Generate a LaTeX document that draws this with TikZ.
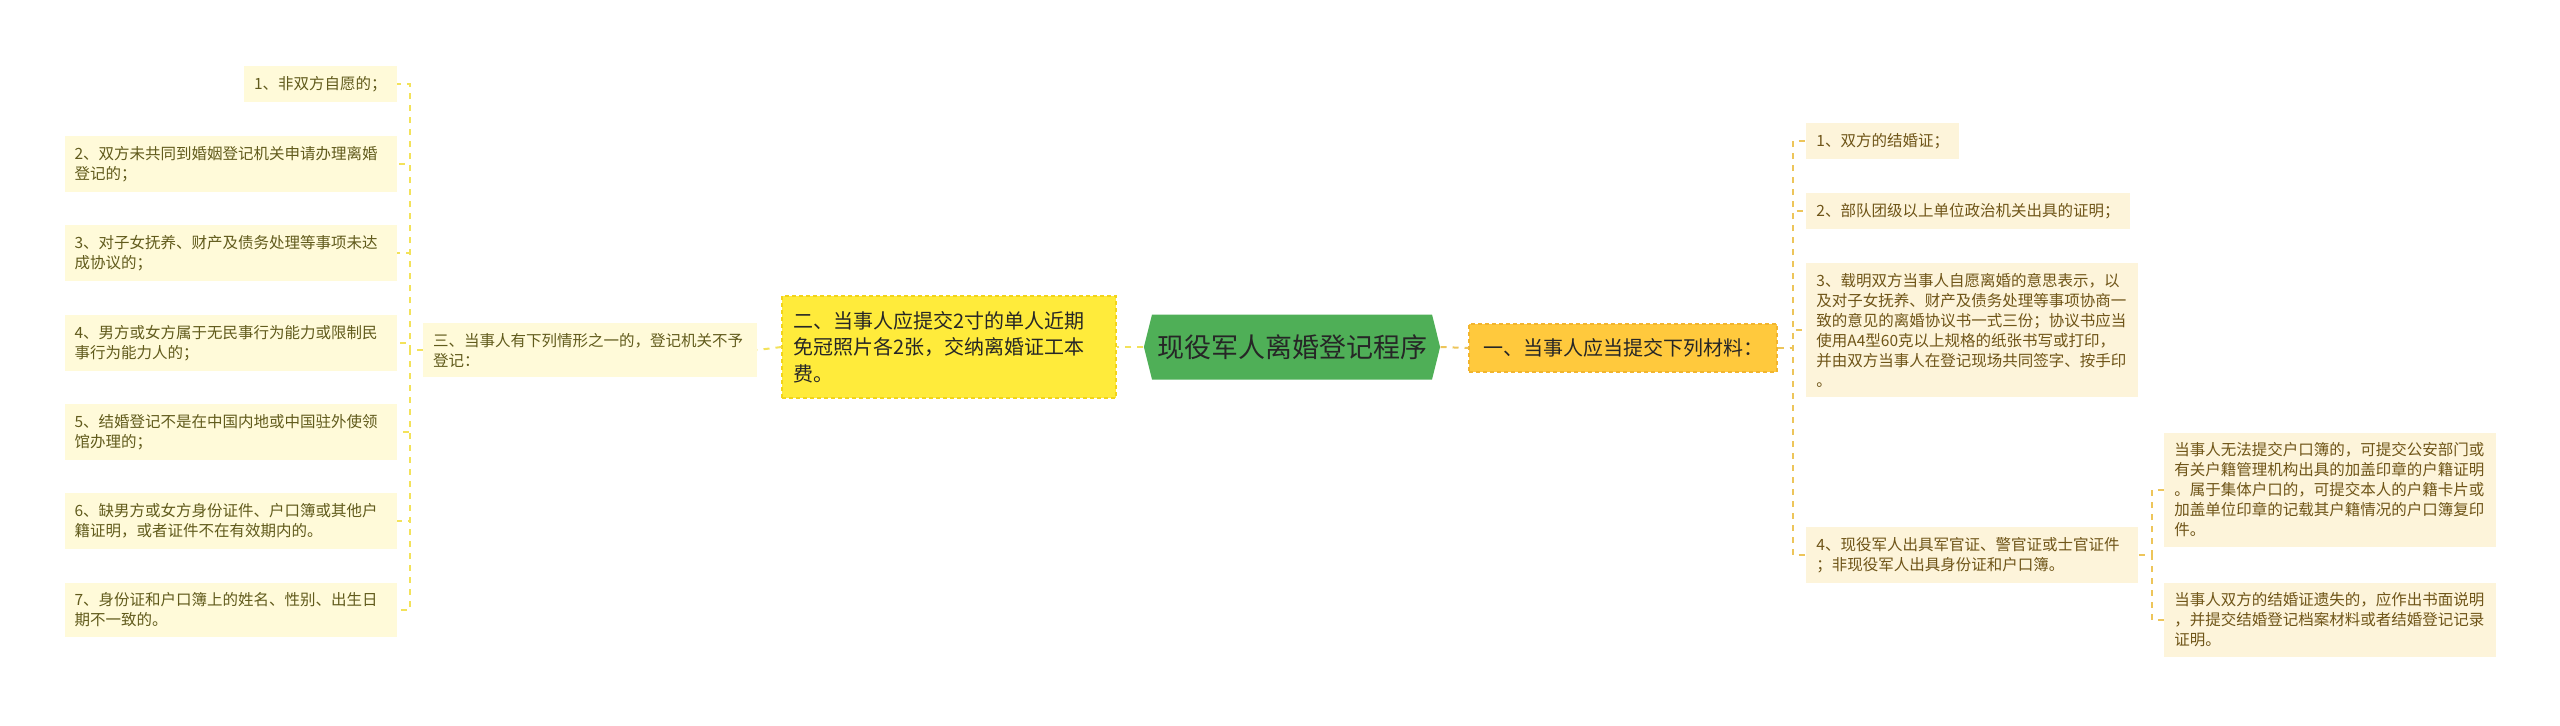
\documentclass[tikz,border=0pt]{standalone}
\usepackage{fontspec}
\setmainfont{Noto Sans CJK SC}
\usepackage{xcolor}
\usetikzlibrary{shapes.symbols}
\definecolor{hubgreen}{HTML}{4FAF57}
\definecolor{hubtext}{HTML}{262626}
\definecolor{twofill}{HTML}{FFEB3B}
\definecolor{twoline}{HTML}{F2D41A}
\definecolor{onefill}{HTML}{FFC93D}
\definecolor{oneline}{HTML}{F2B52E}
\definecolor{leafL}{HTML}{FFFAD9}
\definecolor{leafR}{HTML}{FDF4DA}
\definecolor{txtL}{HTML}{615B1C}
\definecolor{txtR}{HTML}{6F5518}
\definecolor{linkL}{HTML}{F3E25A}
\definecolor{linkR}{HTML}{EDC55A}
\tikzset{
  hub/.style={shape=signal,signal to=east and west,signal pointer angle=152,fill=hubgreen,text=hubtext,
    inner xsep=2.5pt,minimum height=32.5pt,font=\fontsize{13.5pt}{16pt}\selectfont},
  topictwo/.style={fill=twofill,draw=twoline,line width=0.6pt,dash pattern=on 2pt off 1.5pt,text=hubtext,
    align=left,text width=156pt,inner xsep=5.5pt,inner ysep=3pt,minimum height=51pt,font=\fontsize{10pt}{13.3pt}\selectfont},
  topicone/.style={fill=onefill,draw=oneline,line width=0.6pt,dash pattern=on 2pt off 1.5pt,text=hubtext,
    inner xsep=7pt,inner ysep=3pt,minimum height=24pt,font=\fontsize{10pt}{12pt}\selectfont},
  subl/.style={fill=leafL,text=txtL,align=left,text width=157pt,inner xsep=5pt,inner ysep=5.1pt,
    font=\fontsize{7.75pt}{10pt}\selectfont},
  leafl/.style={fill=leafL,text=txtL,align=left,anchor=east,inner xsep=5pt,inner ysep=5.1pt,
    font=\fontsize{7.75pt}{10pt}\selectfont},
  leafr/.style={fill=leafR,text=txtR,align=left,anchor=west,inner xsep=5pt,inner ysep=5.1pt,
    font=\fontsize{7.75pt}{10pt}\selectfont},
  wrapbox/.style={text width=156pt},
  linkl/.style={draw=linkL,line width=1pt,dash pattern=on 3pt off 3pt},
  linkr/.style={draw=linkR,line width=1pt,dash pattern=on 3pt off 3pt},
}

\begin{document}
\begin{tikzpicture}[x=0.5pt,y=-0.5pt]
  \useasboundingbox (0,0) rectangle (2560,725);
  % centre and main branches
  \node[hub] (root) at (1292,347) {现役军人离婚登记程序};
  \node[topictwo] (two) at (949,347) {二、当事人应提交2寸的单人近期\\免冠照片各2张，交纳离婚证工本\\费。};
  \node[subl] (three) at (590,350) {三、当事人有下列情形之一的，登记机关不予\\登记：};
  \node[topicone] (one) at (1623,348) {一、当事人应当提交下列材料：};
  % left leaves
  \node[leafl] (l1) at (397,84) {1、非双方自愿的；};
  \node[leafl,wrapbox] (l2) at (397,164) {2、双方未共同到婚姻登记机关申请办理离婚\\登记的；};
  \node[leafl,wrapbox] (l3) at (397,253) {3、对子女抚养、财产及债务处理等事项未达\\成协议的；};
  \node[leafl,wrapbox] (l4) at (397,343) {4、男方或女方属于无民事行为能力或限制民\\事行为能力人的；};
  \node[leafl,wrapbox] (l5) at (397,432) {5、结婚登记不是在中国内地或中国驻外使领\\馆办理的；};
  \node[leafl,wrapbox] (l6) at (397,521) {6、缺男方或女方身份证件、户口簿或其他户\\籍证明，或者证件不在有效期内的。};
  \node[leafl,wrapbox] (l7) at (397,610) {7、身份证和户口簿上的姓名、性别、出生日\\期不一致的。};
  % right leaves
  \node[leafr] (r1) at (1806,141) {1、双方的结婚证；};
  \node[leafr] (r2) at (1806,211) {2、部队团级以上单位政治机关出具的证明；};
  \node[leafr,wrapbox] (r3) at (1806,330) {3、载明双方当事人自愿离婚的意思表示，以\\及对子女抚养、财产及债务处理等事项协商一\\致的意见的离婚协议书一式三份；协议书应当\\使用A4型60克以上规格的纸张书写或打印，\\并由双方当事人在登记现场共同签字、按手印\\。};
  \node[leafr,wrapbox] (r4) at (1806,555) {4、现役军人出具军官证、警官证或士官证件\\；非现役军人出具身份证和户口簿。};
  \node[leafr,wrapbox] (s1) at (2164,490) {当事人无法提交户口簿的，可提交公安部门或\\有关户籍管理机构出具的加盖印章的户籍证明\\。属于集体户口的，可提交本人的户籍卡片或\\加盖单位印章的记载其户籍情况的户口簿复印\\件。};
  \node[leafr,wrapbox] (s2) at (2164,620) {当事人双方的结婚证遗失的，应作出书面说明\\，并提交结婚登记档案材料或者结婚登记记录\\证明。};
  % connectors
  \draw[linkl] (root.west) -- (two.east);
  \draw[linkl] (two.west) -- (three.east);
  \foreach \n in {l1,l2,l3,l4,l5,l6,l7}
    \draw[linkl] (three.west) -- ++(-13,0) |- (\n.east);
  \foreach \n in {r1,r2,r3,r4}
    \draw[linkr] (one.east) -- ++(15,0) |- (\n.west);
  \draw[linkr] (root.east) -- (one.west);
  \foreach \n in {s1,s2}
    \draw[linkr] (r4.east) -- ++(13,0) |- (\n.west);
\end{tikzpicture}
\end{document}
